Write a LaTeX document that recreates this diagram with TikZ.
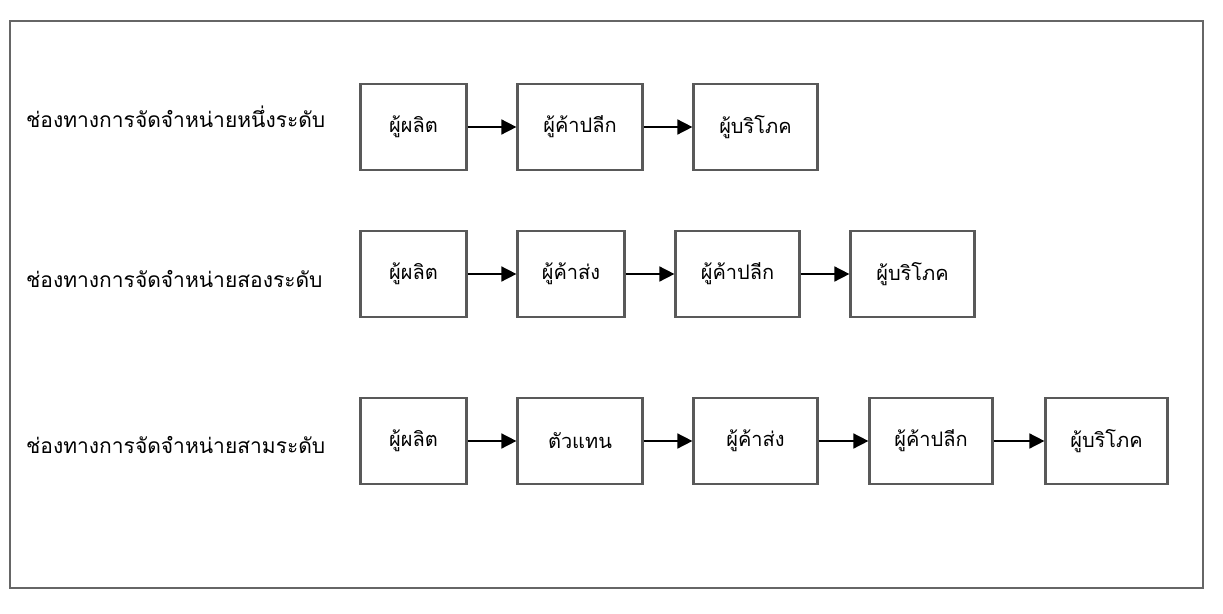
\documentclass[tikz,border=0pt]{standalone}
\usepackage{fontspec}
\newfontfamily\thaifont[Script=Thai]{Loma}
\usetikzlibrary{arrows.meta}
\begin{document}
\begin{tikzpicture}[x=1pt,y=-1pt,
  font=\thaifont\fontsize{20}{22}\selectfont,
  actor/.style={draw=black!65,line width=2.2pt,minimum height=86pt,inner sep=0pt},
  flow/.style={line width=1.6pt,-{Triangle[length=15pt,width=15pt]}},
  rowlabel/.style={anchor=west,inner sep=0pt,font=\thaifont\fontsize{21}{23}\selectfont}]
\useasboundingbox (0,0) rectangle (1223,613);
% outer frame
\draw[black!60,line width=2pt] (10,21) rectangle (1203,588);

% one-level channel
\node[rowlabel] (l1) at (26,117) {ช่องทางการจัดจำหน่ายหนึ่งระดับ};
\node[actor,minimum width=106pt] (a1) at (413.5,127) {ผู้ผลิต};
\node[actor,minimum width=125pt] (a2) at (580,127) {ผู้ค้าปลีก};
\node[actor,minimum width=124pt] (a3) at (755.5,127) {ผู้บริโภค};
\draw[flow] (a1) -- (a2);
\draw[flow] (a2) -- (a3);

% two-level channel
\node[rowlabel] (l2) at (26,279) {ช่องทางการจัดจำหน่ายสองระดับ};
\node[actor,minimum width=106pt] (b1) at (413.5,274) {ผู้ผลิต};
\node[actor,minimum width=107pt] (b2) at (571,274) {ผู้ค้าส่ง};
\node[actor,minimum width=124pt] (b3) at (737.5,274) {ผู้ค้าปลีก};
\node[actor,minimum width=124pt] (b4) at (912.5,274) {ผู้บริโภค};
\draw[flow] (b1) -- (b2);
\draw[flow] (b2) -- (b3);
\draw[flow] (b3) -- (b4);

% three-level channel
\node[rowlabel] (l3) at (26,445) {ช่องทางการจัดจำหน่ายสามระดับ};
\node[actor,minimum width=106pt] (c1) at (413.5,441) {ผู้ผลิต};
\node[actor,minimum width=125pt] (c2) at (580,441) {ตัวแทน};
\node[actor,minimum width=124pt] (c3) at (755.5,441) {ผู้ค้าส่ง};
\node[actor,minimum width=123pt] (c4) at (931,441) {ผู้ค้าปลีก};
\node[actor,minimum width=122pt] (c5) at (1106.5,441) {ผู้บริโภค};
\draw[flow] (c1) -- (c2);
\draw[flow] (c2) -- (c3);
\draw[flow] (c3) -- (c4);
\draw[flow] (c4) -- (c5);
\end{tikzpicture}
\end{document}
